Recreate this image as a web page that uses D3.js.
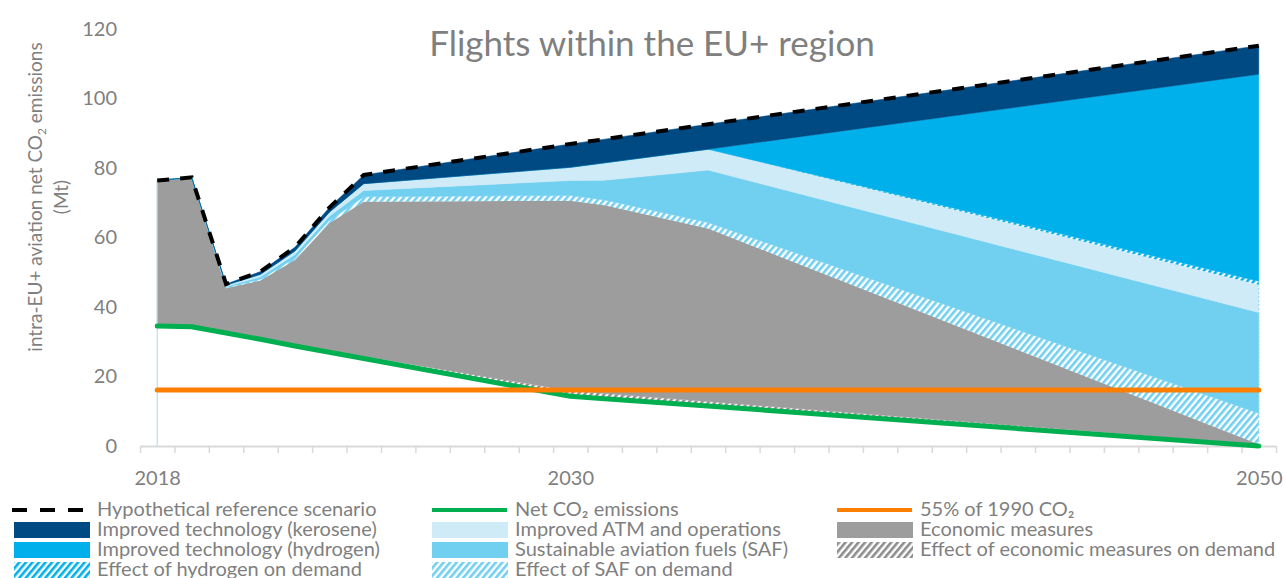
<!DOCTYPE html>
<html><head><meta charset="utf-8">
<script src="https://cdn.jsdelivr.net/npm/d3@7"></script>
<style>
body{margin:0;background:#fff;}
svg{display:block;font-family:Lato, "Open Sans", sans-serif;}
</style>
</head><body>
<svg id="c" width="1284" height="578"></svg>
<script>
// ---------- data (Mt CO2, stacked layer thickness per year) ----------
const years            = [2018, 2019, 2020, 2021, 2022, 2023, 2024, 2030, 2031, 2034, 2050];
const netEmissions     = [34.5, 34.3, 32.5, 30.7, 28.8, 27.0, 25.2, 14.3, 13.6, 11.5, 0.0];
const econDemandEffect = [0.0, 0.0, 0.1, 0.2, 0.3, 0.4, 0.6, 1.6, 1.5, 1.3, 0.4];
const economicMeasures = [41.9, 43.0, 12.8, 16.7, 24.4, 36.7, 44.5, 54.7, 54.2, 49.8, 0.1];
const safDemandEffect  = [0.0, 0.0, 0.2, 0.4, 0.6, 0.8, 1.4, 1.5, 1.5, 1.7, 8.9];
const safFuels         = [0.0, 0.0, 0.3, 0.7, 1.0, 1.2, 1.8, 4.3, 5.7, 15.1, 29.0];
const atmOperations    = [0.0, 0.0, 0.4, 0.7, 1.0, 1.2, 2.0, 3.8, 5.0, 6.0, 8.0];
const h2DemandEffect   = [0.0, 0.0, 0.0, 0.0, 0.0, 0.0, 0.0, 0.0, 0.0, 0.0, 1.0];
const techHydrogen     = [0.0, 0.0, 0.0, 0.0, 0.0, 0.0, 0.0, 0.0, 0.0, 0.0, 59.6];
const techKerosene     = [0.0, 0.0, 0.3, 0.8, 1.1, 1.3, 2.5, 6.7, 6.8, 7.2, 8.2];
const target1990       = 16.1;   // 55% of 1990 CO2
const firstYear = 2018, lastYear = 2050;
const yTicks  = [0, 20, 40, 60, 80, 100, 120];
const xLabels = [2018, 2030, 2050];
const legendLabels = [
  "Hypothetical reference scenario", "Net CO\u2082 emissions", "55% of 1990 CO\u2082",
  "Improved technology (kerosene)", "Improved ATM and operations", "Economic measures",
  "Improved technology (hydrogen)", "Sustainable aviation fuels (SAF)", "Effect of economic measures on demand",
  "Effect of hydrogen on demand", "Effect of SAF on demand"
];

// ---------- build table ----------
const keys = ["net","econDem","econ","safDem","saf","atm","h2Dem","h2","kero"];
const series = {net:netEmissions, econDem:econDemandEffect, econ:economicMeasures, safDem:safDemandEffect,
  saf:safFuels, atm:atmOperations, h2Dem:h2DemandEffect, h2:techHydrogen, kero:techKerosene};
const table = years.map((yr,i)=>{ const o={year:yr}; keys.forEach(k=>o[k]=series[k][i]); return o; });
const stacked = d3.stack().keys(keys)(table);
const refTotal = table.map(d=>({year:d.year, v:d3.sum(keys,k=>d[k])}));

// ---------- styles ----------
const TXT = "#7f7f7f";
const col = {econ:"#9d9d9d", saf:"#71cfef", atm:"#cfebf7", h2:"#00b0ea", kero:"#004a84",
  green:"#00b050", orange:"#fd7e00"};
const svg = d3.select("#c");
const defs = svg.append("defs");
function hatch(id, color){
  const p = defs.append("pattern").attr("id",id).attr("patternUnits","userSpaceOnUse")
    .attr("width",5).attr("height",5).attr("patternTransform","rotate(40)");
  p.append("rect").attr("width",5).attr("height",5).attr("fill","#fff");
  p.append("rect").attr("width",2.6).attr("height",5).attr("fill",color);
}
hatch("hGray","#8c8c8c"); hatch("hSaf",col.saf); hatch("hH2",col.h2);
const fill = {econDem:"url(#hGray)", econ:col.econ, safDem:"url(#hSaf)", saf:col.saf, atm:col.atm,
  h2Dem:"url(#hH2)", h2:col.h2, kero:col.kero};

// ---------- scales ----------
const x = d3.scaleLinear().domain([firstYear-0.5, lastYear+0.5]).range([140, 1276]);
const y = d3.scaleLinear().domain([0,120]).range([446, 29]);

// ---------- areas ----------
const area = d3.area().x(d=>x(d.data.year)).y0(d=>y(d[0])).y1(d=>y(d[1]));
svg.append("g").selectAll("path").data(stacked.filter(s=>s.key!=="net")).join("path")
  .attr("d",area).attr("fill",s=>fill[s.key])
  .attr("stroke",s=>fill[s.key].startsWith("url")?"none":fill[s.key]).attr("stroke-width",0.5);

// edge lines of first / last year
const last = stacked.find(s=>s.key==="h2Dem");
svg.append("line").attr("x1",x(firstYear)).attr("x2",x(firstYear)).attr("y1",y(0)).attr("y2",y(refTotal[0].v))
  .attr("stroke","#a9d8ec").attr("stroke-width",1);
svg.append("line").attr("x1",x(lastYear)).attr("x2",x(lastYear)).attr("y1",y(0)).attr("y2",y(last[last.length-1][1]))
  .attr("stroke","#8fd4f0").attr("stroke-width",1).attr("stroke-dasharray","2,2");

// ---------- axes ----------
const boundaries = d3.range(firstYear-0.5, lastYear+1, 1);
const gx = svg.append("g").attr("transform",`translate(0,${y(0)})`)
  .call(d3.axisBottom(x).tickValues(boundaries).tickSize(7).tickSizeOuter(0).tickFormat(""));
gx.select(".domain").attr("stroke","#d9d9d9").attr("stroke-width",2);
gx.selectAll(".tick line").attr("stroke","#d9d9d9").attr("stroke-width",1.5);

const gxl = svg.append("g").attr("transform",`translate(0,${y(0)})`)
  .call(d3.axisBottom(x).tickValues(xLabels).tickSize(0).tickPadding(25).tickFormat(d3.format("d")));
gxl.select(".domain").remove();
gxl.selectAll("text").attr("font-size",20).attr("fill",TXT).attr("font-family","Lato");

const gy = svg.append("g").attr("transform","translate(117,0)")
  .call(d3.axisLeft(y).tickValues(yTicks).tickSize(0).tickPadding(0));
gy.select(".domain").remove();
gy.selectAll("text").attr("font-size",20).attr("fill",TXT).attr("font-family","Lato");

// ---------- lines ----------
const line = d3.line().x(d=>x(d.year)).y(d=>y(d.v));
svg.append("path").attr("d",line(years.map((yr,i)=>({year:yr, v:netEmissions[i]}))))
  .attr("fill","none").attr("stroke",col.green).attr("stroke-width",5)
  .attr("stroke-linecap","round").attr("stroke-linejoin","round");
svg.append("path").attr("d",line([{year:firstYear,v:target1990},{year:lastYear,v:target1990}]))
  .attr("fill","none").attr("stroke",col.orange).attr("stroke-width",5).attr("stroke-linecap","round");
svg.append("path").attr("d",line(refTotal))
  .attr("fill","none").attr("stroke","#000").attr("stroke-width",4).attr("stroke-dasharray","12,11");

// ---------- titles ----------
svg.append("text").attr("x",652).attr("y",56).attr("text-anchor","middle")
  .attr("font-size",35).attr("fill",TXT).text("Flights within the EU+ region");

const yt = svg.append("text").attr("transform","translate(42,197) rotate(-90)")
  .attr("text-anchor","middle").attr("font-size",19).attr("fill",TXT);
yt.append("tspan").text("intra-EU+ aviation net CO");
yt.append("tspan").attr("font-size",12).attr("dy",4).text("2");
yt.append("tspan").attr("dy",-4).text(" emissions");
svg.append("text").attr("transform","translate(68,197) rotate(-90)")
  .attr("text-anchor","middle").attr("font-size",19).attr("fill",TXT).text("(Mt)");

// ---------- legend ----------
const legendKinds = ["dash","green","orange","kero","atm","econ","h2","saf","econDem","h2Dem","safDem"];
const colX = [14, 432, 837];
const lg = svg.append("g");
legendLabels.forEach((lab,i)=>{
  const r = Math.floor(i/3), c = i%3;
  const cx = colX[c], cy = 510 + r*20, kind = legendKinds[i];
  const g = lg.append("g");
  if(kind==="dash"){
    g.append("line").attr("x1",cx-2).attr("x2",cx+70).attr("y1",cy).attr("y2",cy)
      .attr("stroke","#000").attr("stroke-width",4).attr("stroke-dasharray","15,13");
  } else if(kind==="green"||kind==="orange"){
    g.append("line").attr("x1",cx).attr("x2",cx+75).attr("y1",cy).attr("y2",cy)
      .attr("stroke",col[kind]).attr("stroke-width",4);
  } else {
    g.append("rect").attr("x",cx).attr("y",cy-8).attr("width",76).attr("height",16).attr("fill",fill[kind]);
  }
  g.append("text").attr("x",cx+83).attr("y",cy+6).attr("font-size",20).attr("fill",TXT).text(lab);
});
</script>
</body></html>
